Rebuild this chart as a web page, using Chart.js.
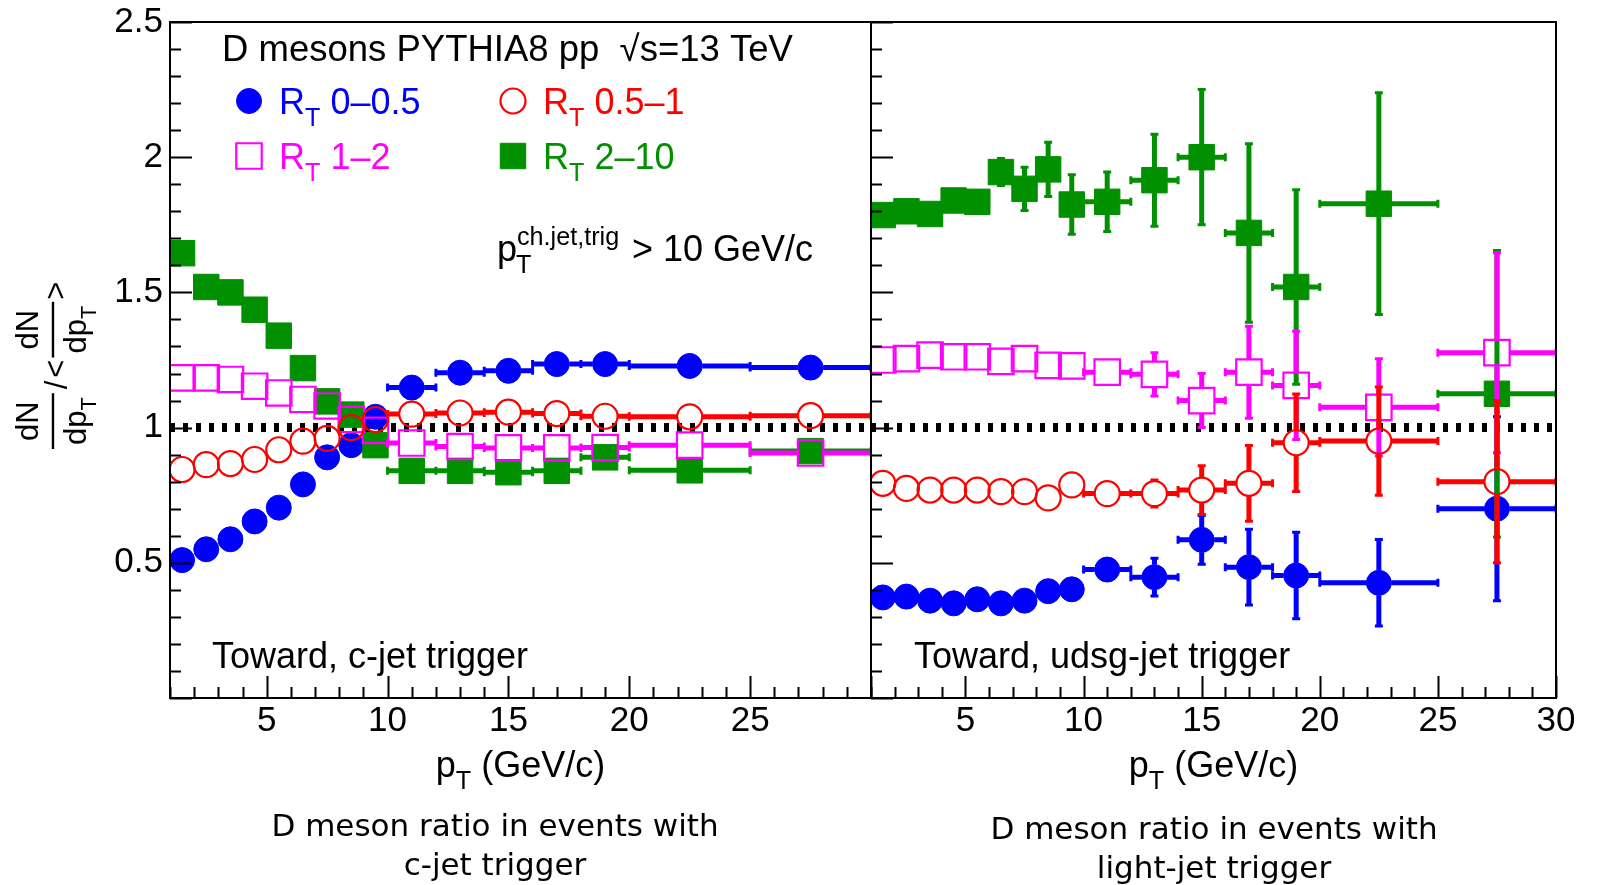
<!DOCTYPE html>
<html>
<head>
<meta charset="utf-8">
<title>D meson ratio vs pT</title>
<script src="https://cdn.jsdelivr.net/npm/chart.js@4.4.1/dist/chart.umd.min.js"></script>
<style>
  html, body { margin: 0; padding: 0; background: #fff; }
  #page { position: relative; width: 1598px; height: 885px; overflow: hidden; background: #fff; }
  #page canvas { position: absolute; top: 0; }
  .caption { position: absolute; width: 520px; font-family: "DejaVu Sans", sans-serif; font-size: 31px; line-height: 39px; text-align: center; color: #000; }
</style>
</head>
<body>
<div id="page">
  <canvas id="cjetChart" width="880" height="885" style="left:0"></canvas>
  <canvas id="udsgChart" width="738" height="885" style="left:860px"></canvas>
  <div class="caption" style="left:235px; top:806px">D meson ratio in events with<br>c-jet trigger</div>
  <div class="caption" style="left:954px; top:809px">D meson ratio in events with<br>light-jet trigger</div>
</div>
<script>
// pT bins (GeV/c), same binning in both panels
const ptCenter = [1.5, 2.5, 3.5, 4.5, 5.5, 6.5, 7.5, 8.5, 9.5, 11, 13, 15, 17, 19, 22.5, 27.5];
const ptLow    = [1, 2, 3, 4, 5, 6, 7, 8, 9, 10, 12, 14, 16, 18, 20, 25];
const ptHigh   = [2, 3, 4, 5, 6, 7, 8, 9, 10, 12, 14, 16, 18, 20, 25, 30];

const xTickValues = [5, 10, 15, 20, 25, 30];
const yTickValues = [0.5, 1, 1.5, 2, 2.5];

// reference line at ratio = 1
const unityX = [1, 30];
const unityY = [1, 1];

const rtRanges = ['0\u20130.5', '0.5\u20131', '1\u20132', '2\u201310'];

// Toward, c-jet trigger
const cjetRt0 = [0.51, 0.55, 0.587, 0.653, 0.704, 0.79, 0.89, 0.935, 1.04, 1.148, 1.203, 1.21, 1.235, 1.235, 1.228, 1.222];
const cjetRt1 = [0.845, 0.863, 0.867, 0.882, 0.918, 0.95, 0.96, 1.0, 1.03, 1.05, 1.054, 1.057, 1.052, 1.042, 1.04, 1.044];
const cjetRt2 = [1.184, 1.184, 1.178, 1.153, 1.128, 1.104, 1.08, 1.03, 0.99, 0.943, 0.93, 0.925, 0.925, 0.926, 0.935, 0.906];
const cjetRt3 = [1.645, 1.52, 1.5, 1.436, 1.34, 1.22, 1.097, 1.048, 0.935, 0.84, 0.84, 0.835, 0.84, 0.89, 0.842, 0.913];
const cjetErr = [0.004, 0.004, 0.005, 0.005, 0.006, 0.006, 0.007, 0.008, 0.009, 0.01, 0.012, 0.014, 0.016, 0.018, 0.016, 0.02];

// Toward, udsg-jet trigger
const udsgRt0 = [0.372, 0.375, 0.36, 0.35, 0.365, 0.35, 0.36, 0.395, 0.402, 0.475, 0.447, 0.585, 0.484, 0.453, 0.426, 0.70];
const udsgRt1 = [0.794, 0.775, 0.769, 0.769, 0.769, 0.763, 0.763, 0.74, 0.788, 0.756, 0.756, 0.769, 0.794, 0.944, 0.95, 0.80];
const udsgRt2 = [1.25, 1.255, 1.268, 1.262, 1.262, 1.245, 1.255, 1.23, 1.228, 1.205, 1.197, 1.10, 1.205, 1.156, 1.075, 1.277];
const udsgRt3 = [1.786, 1.80, 1.79, 1.84, 1.835, 1.945, 1.883, 1.955, 1.825, 1.835, 1.915, 2.0, 1.72, 1.52, 1.828, 1.125];
const udsgRt0Err = [0.015, 0.015, 0.015, 0.015, 0.015, 0.015, 0.015, 0.02, 0.02, 0.03, 0.07, 0.09, 0.14, 0.16, 0.16, 0.34];
const udsgRt1Err = [0.015, 0.015, 0.015, 0.015, 0.015, 0.015, 0.015, 0.02, 0.02, 0.03, 0.05, 0.09, 0.14, 0.18, 0.2, 0.3];
const udsgRt2Err = [0.02, 0.02, 0.02, 0.02, 0.02, 0.02, 0.02, 0.025, 0.025, 0.03, 0.08, 0.1, 0.17, 0.2, 0.18, 0.37];
const udsgRt3Err = [0.03, 0.03, 0.03, 0.03, 0.03, 0.05, 0.08, 0.1, 0.11, 0.11, 0.17, 0.25, 0.33, 0.36, 0.41, 0.53];

const FONT = '"Liberation Sans", Arial, Helvetica, sans-serif';

// marker styles, ROOT-like
const seriesStyle = [
    { color: '#0000ff', pointStyle: 'circle', radius: 12.5, filled: true,  order: 4 },
    { color: '#ff0000', pointStyle: 'circle', radius: 12.5, filled: false, order: 1 },
    { color: '#ff00ff', pointStyle: 'rect',   radius: 18,   filled: false, order: 2 },
    { color: '#009000', pointStyle: 'rect',   radius: 18,   filled: true,  order: 3 }
];

function makeDatasets(values, errors) {
    const sets = values.map((vals, s) => {
        const st = seriesStyle[s];
        return {
            label: 'R_T ' + rtRanges[s],
            data: ptCenter.map((x, i) => ({ x: x, y: vals[i] })),
            yErr: errors[s],
            showLine: false,
            pointStyle: st.pointStyle,
            pointRadius: st.radius,
            pointHoverRadius: st.radius,
            pointBorderWidth: st.filled ? 1 : 2.2,
            borderColor: st.color,
            backgroundColor: st.filled ? st.color : 'rgba(0,0,0,0)',
            order: st.order
        };
    });
    // dotted unity line
    sets.push({
        label: 'unity',
        data: unityX.map((x, i) => ({ x: x, y: unityY[i] })),
        showLine: true,
        borderColor: '#000',
        borderWidth: 9,
        borderDash: [5, 8],
        borderCapStyle: 'butt',
        pointRadius: 0,
        order: 5
    });
    return sets;
}

// text with sub/superscripts: parts = [[text, shift]], shift -1 sub, +1 sup
function richWidth(ctx, parts, size) {
    let w = 0;
    parts.forEach(([t, shift]) => {
        ctx.font = (shift ? size * 0.7 : size) + 'px ' + FONT;
        w += ctx.measureText(t).width;
    });
    return w;
}

function drawRich(ctx, x, baseline, parts, size, color) {
    ctx.save();
    ctx.fillStyle = color;
    ctx.textAlign = 'left';
    ctx.textBaseline = 'alphabetic';
    let cx = x;
    parts.forEach(([t, shift]) => {
        const s = shift ? size * 0.7 : size;
        ctx.font = s + 'px ' + FONT;
        const dy = shift < 0 ? size * 0.33 : shift > 0 ? -size * 0.45 : 0;
        ctx.fillText(t, cx, baseline + dy);
        cx += ctx.measureText(t).width;
    });
    ctx.restore();
    return cx - x;
}

function drawMarker(ctx, st, x, y) {
    ctx.save();
    ctx.fillStyle = st.filled ? st.color : 'rgba(0,0,0,0)';
    ctx.strokeStyle = st.color;
    ctx.lineWidth = st.filled ? 1 : 2.2;
    Chart.helpers.drawPoint(ctx, { pointStyle: st.pointStyle, radius: st.radius, rotation: 0, borderWidth: ctx.lineWidth }, x, y);
    ctx.restore();
}

// error bars drawn under each dataset's markers, leaving a gap for the marker
const errorBars = {
    id: 'errorBars',
    beforeDatasetDraw(chart, args) {
        const ds = chart.data.datasets[args.index];
        if (!ds.yErr) return;
        const { ctx, chartArea: a } = chart;
        const xs = chart.scales.x, ys = chart.scales.y;
        const gap = 12.5;
        const caps = [];
        ctx.save();
        ctx.beginPath();
        ctx.rect(a.left, a.top, a.right - a.left, a.bottom - a.top);
        ctx.clip();
        ctx.strokeStyle = ds.borderColor;
        ctx.lineWidth = 5;
        ctx.lineCap = 'butt';
        ctx.beginPath();
        ds.data.forEach((p, i) => {
            const px = xs.getPixelForValue(p.x);
            const py = ys.getPixelForValue(p.y);
            const xl = xs.getPixelForValue(ptLow[i]);
            const xh = xs.getPixelForValue(ptHigh[i]);
            const yt = ys.getPixelForValue(p.y + ds.yErr[i]);
            const yb = ys.getPixelForValue(p.y - ds.yErr[i]);
            if (px - gap > xl + 1) {
                ctx.moveTo(xl, py); ctx.lineTo(px - gap, py);
                caps.push([xl, py, 'v']);
            }
            if (xh - 1 > px + gap) {
                ctx.moveTo(px + gap, py); ctx.lineTo(xh, py);
                caps.push([xh, py, 'v']);
            }
            if (py - gap > yt + 1) {
                ctx.moveTo(px, yt); ctx.lineTo(px, py - gap);
                caps.push([px, yt, 'h']);
            }
            if (yb - 1 > py + gap) {
                ctx.moveTo(px, py + gap); ctx.lineTo(px, yb);
                caps.push([px, yb, 'h']);
            }
        });
        ctx.stroke();
        ctx.lineWidth = 3;
        ctx.beginPath();
        caps.forEach(([cx, cy, dir]) => {
            if (dir === 'v') { ctx.moveTo(cx, cy - 4); ctx.lineTo(cx, cy + 4); }
            else { ctx.moveTo(cx - 4, cy); ctx.lineTo(cx + 4, cy); }
        });
        ctx.stroke();
        ctx.restore();
    }
};

// frame and inward ticks
const rootFrame = {
    id: 'rootFrame',
    afterDatasetsDraw(chart) {
        const { ctx, chartArea: a } = chart;
        const xs = chart.scales.x, ys = chart.scales.y;
        ctx.save();
        ctx.strokeStyle = '#000';
        ctx.lineWidth = 2;
        ctx.strokeRect(a.left, a.top, a.right - a.left, a.bottom - a.top);
        ctx.beginPath();
        for (let k = 0; k <= 25; k++) {
            const py = Math.round(ys.getPixelForValue(k / 10)) + 0.5;
            const len = k % 5 === 0 ? 22 : 11;
            ctx.moveTo(a.left, py); ctx.lineTo(a.left + len, py);
        }
        for (let v = 1; v <= 30; v++) {
            const px = Math.round(xs.getPixelForValue(v)) + 0.5;
            const len = v % 5 === 0 ? 22 : 11;
            ctx.moveTo(px, a.bottom); ctx.lineTo(px, a.bottom - len);
        }
        ctx.stroke();
        ctx.restore();
    }
};

function drawXTitle(chart) {
    const ctx = chart.ctx, a = chart.chartArea;
    const parts = [['p', 0], ['T', -1], [' (GeV/c)', 0]];
    const w = richWidth(ctx, parts, 36);
    drawRich(ctx, (a.left + a.right) / 2 - w / 2, 777, parts, 36, '#000');
}

function drawFraction(ctx, x0, size) {
    const num = [['dN', 0]];
    const den = [['dp', 0], ['T', -1]];
    const wn = richWidth(ctx, num, size), wd = richWidth(ctx, den, size);
    const w = Math.max(wn, wd) + 8;
    ctx.fillRect(x0, -1.2, w, 2.4);
    drawRich(ctx, x0 + (w - wn) / 2, -15, num, size, '#000');
    drawRich(ctx, x0 + (w - wd) / 2, 33, den, size, '#000');
    return w;
}

function drawYTitle(chart) {
    const ctx = chart.ctx;
    const size = 31;
    ctx.save();
    ctx.translate(53, 365);
    ctx.rotate(-Math.PI / 2);
    ctx.fillStyle = '#000';
    let x = -84;
    x += drawFraction(ctx, x, size) + 4;
    ctx.font = size + 'px ' + FONT;
    ctx.textBaseline = 'middle';
    ctx.fillText('/', x, 5);
    x += ctx.measureText('/').width + 3;
    ctx.fillText('<', x, 4);
    x += ctx.measureText('<').width + 2;
    x += drawFraction(ctx, x, size) + 2;
    ctx.font = size + 'px ' + FONT;
    ctx.fillText('>', x, 4);
    ctx.restore();
}

const cjetLabels = {
    id: 'cjetLabels',
    afterDraw(chart) {
        const ctx = chart.ctx;
        drawRich(ctx, 222, 61, [['D mesons PYTHIA8 pp  \u221As=13 TeV', 0]], 36.5, '#000');
        const markerX = [249, 513, 249, 513];
        const rowY = [101, 101, 156, 156];
        seriesStyle.forEach((st, s) => {
            drawMarker(ctx, st, markerX[s], rowY[s]);
            drawRich(ctx, markerX[s] + 30, rowY[s] + 13, [['R', 0], ['T', -1], [' ' + rtRanges[s], 0]], 36, st.color);
        });
        // trigger threshold
        drawRich(ctx, 497, 261, [['p', 0]], 36, '#000');
        drawRich(ctx, 516, 261, [['T', -1]], 36, '#000');
        drawRich(ctx, 517, 261, [['ch.jet,trig', 1]], 36, '#000');
        drawRich(ctx, 632, 261, [['> 10 GeV/c', 0]], 36, '#000');
        drawRich(ctx, 212, 668, [['Toward, c-jet trigger', 0]], 36, '#000');
        drawXTitle(chart);
        drawYTitle(chart);
    }
};

const udsgLabels = {
    id: 'udsgLabels',
    afterDraw(chart) {
        drawRich(chart.ctx, 54, 668, [['Toward, udsg-jet trigger', 0]], 36, '#000');
        drawXTitle(chart);
    }
};

function makeChart(canvasId, datasets, showYLabels, padding, extraPlugin) {
    return new Chart(document.getElementById(canvasId), {
        type: 'scatter',
        data: { datasets: datasets },
        options: {
            responsive: false,
            animation: false,
            events: [],
            layout: { padding: padding, autoPadding: false },
            plugins: { legend: { display: false }, tooltip: { enabled: false } },
            scales: {
                x: {
                    type: 'linear',
                    min: 1,
                    max: 30,
                    grid: { display: false, drawTicks: false },
                    border: { display: false },
                    ticks: {
                        color: '#000',
                        font: { family: FONT, size: 35 },
                        padding: 2,
                        maxRotation: 0,
                        autoSkip: false,
                        callback: v => (!showYLabels || v < 30) ? String(v) : ''
                    },
                    afterBuildTicks: axis => { axis.ticks = xTickValues.map(v => ({ value: v })); },
                    afterFit: axis => {
                        axis.height = 187;
                        // layout padding already leaves room for the edge labels
                        axis.paddingLeft = 0;
                        axis.paddingRight = 0;
                    }
                },
                y: {
                    type: 'linear',
                    min: 0,
                    max: 2.5,
                    display: showYLabels,
                    grid: { display: false, drawTicks: false },
                    border: { display: false },
                    ticks: {
                        color: '#000',
                        font: { family: FONT, size: 35 },
                        padding: 7,
                        callback: v => String(v)
                    },
                    afterBuildTicks: axis => { axis.ticks = yTickValues.map(v => ({ value: v })); },
                    afterFit: axis => {
                        axis.width = showYLabels ? 170 : 0;
                        axis.paddingTop = 0;
                        axis.paddingBottom = 0;
                    }
                }
            }
        },
        plugins: [errorBars, rootFrame, extraPlugin]
    });
}

document.addEventListener('DOMContentLoaded', function() {
    makeChart('cjetChart',
        makeDatasets([cjetRt0, cjetRt1, cjetRt2, cjetRt3], [cjetErr, cjetErr, cjetErr, cjetErr]),
        true, { top: 22, right: 9, left: 0, bottom: 0 }, cjetLabels);
    makeChart('udsgChart',
        makeDatasets([udsgRt0, udsgRt1, udsgRt2, udsgRt3], [udsgRt0Err, udsgRt1Err, udsgRt2Err, udsgRt3Err]),
        false, { top: 22, right: 42, left: 11, bottom: 0 }, udsgLabels);
});
</script>
</body>
</html>
